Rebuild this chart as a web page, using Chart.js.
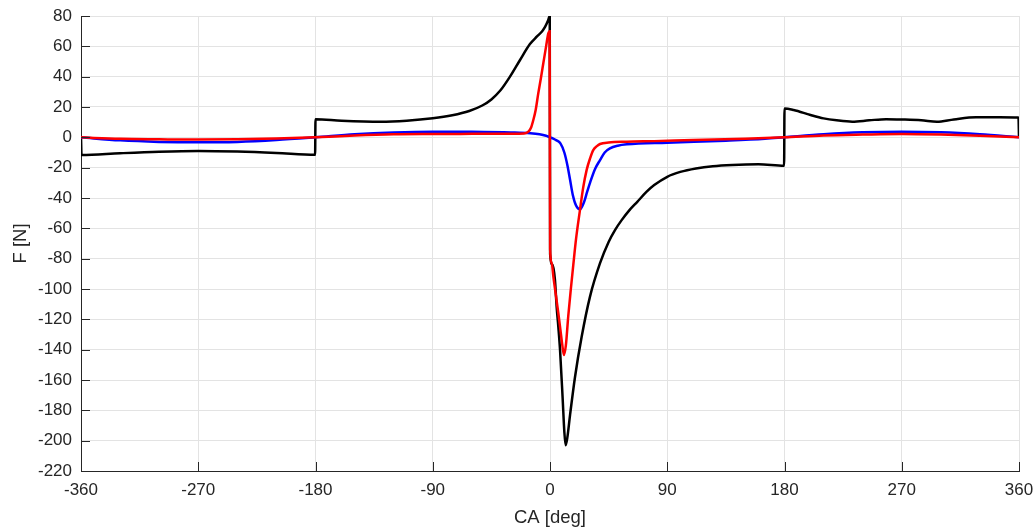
<!DOCTYPE html>
<html>
<head>
<meta charset="utf-8">
<script src="https://cdn.jsdelivr.net/npm/chart.js@4/dist/chart.umd.min.js"></script>
<style>
  html, body { margin: 0; padding: 0; background: #fff; }
  #wrap { width: 1035px; height: 529px; }
</style>
</head>
<body>
<div id="wrap"><canvas id="chart"></canvas></div>
<script>
// ─── Datos ───────────────────────────────────────────────────────────────────

const xTicks = [-360, -270, -180, -90, 0, 90, 180, 270, 360];

// Curva negra
const blackAngle = [-360, -359.6, -330, -300, -270, -240, -210, -180.3, -180, -160,
  -130, -110, -90, -75, -62, -52, -45, -38, -30.7, -23,
  -15.4, -10, -6, -3.8, -1.5, -0.2, 0.1, 2, 3.8, 5.1,
  6.4, 7.7, 9.7, 11, 12, 13.3, 15.4, 19.2, 24.3, 30.7,
  38.4, 45, 50, 55, 61, 67, 74, 80, 90, 100,
  112, 125, 140, 160, 179.7, 180, 187, 200, 210, 220,
  232, 245, 258, 270, 285, 297, 310, 327, 345, 359.6,
  360];
const blackForce = [0, -11.7, -10.5, -9.5, -9, -9.4, -10.3, -11.5, 12, 11,
  10.3, 11, 12.6, 14.6, 17.4, 21, 25, 31, 40, 51,
  61.5, 66.5, 70, 72.8, 77, 80, -77, -84, -94, -111.7,
  -125, -140, -172, -194, -203, -198, -183, -158, -131.5, -105,
  -83, -69, -61, -54.6, -48, -42.5, -36, -31.5, -26, -22.8,
  -20.5, -19, -18.2, -17.8, -18.7, 19, 18, 14.7, 12.5, 11.2,
  10.3, 11.2, 12, 11.8, 11.3, 10.3, 11.8, 13.2, 13.2, 13,
  0];

// Curva azul
const blueAngle = [-360, -330, -300, -270, -240, -210, -180, -150, -120, -90,
  -60, -30, -15, -8, -3, 0, 2.5, 5, 8, 11,
  13.5, 15.4, 17.5, 20, 23, 26, 28.5, 30.7, 34.5, 38.4,
  42, 46, 52, 59, 90, 135, 165, 180, 210, 240,
  270, 300, 330, 360];
const blueForce = [0, -2, -3, -3.3, -3, -1.8, 0, 2, 3.2, 3.7,
  3.6, 3.2, 2.7, 2, 1, 0, -0.8, -2, -4, -10,
  -19, -28, -38, -45, -47.5, -43, -36, -30, -21, -15,
  -10, -7.3, -5.5, -4.6, -3.5, -2.2, -1, 0, 2, 3.3,
  3.7, 3.3, 2, 0];

// Curva roja
const redAngle = [-360, -330, -300, -270, -240, -210, -180, -150, -120, -90,
  -60, -30, -20, -16.6, -14.5, -12.8, -11, -9, -7, -5.1,
  -3, -1.3, -0.3, 0.1, 1.3, 2.6, 4.5, 6.4, 8, 9.3,
  10.7, 12.2, 14, 16, 17.9, 20, 23, 25.5, 28.1, 30.7,
  33.2, 36, 38.4, 45, 59, 80, 110, 150, 180, 210,
  240, 270, 300, 330, 360];
const redForce = [0, -1, -1.3, -1.5, -1.3, -0.8, 0, 1.2, 2, 2.2,
  2.3, 2.4, 2.6, 3.7, 6.5, 11.4, 18, 29, 39, 49,
  60, 68.5, 70, -74, -83, -92, -104, -116, -127, -136,
  -143.5, -137, -118, -100, -84, -67, -48, -33, -21.6, -14,
  -8.4, -5.8, -4.4, -3.4, -2.9, -2.5, -1.8, -1, 0, 1.2,
  1.8, 2.2, 1.8, 1, 0];

// ─── Helpers ────────────────────────────────────────────────────────────────

const toPoints = (xs, ys) => xs.map((x, i) => ({ x, y: ys[i] }));

const FONT = "'Liberation Sans', Arial, Helvetica, sans-serif";
const AXIS_COLOR = '#262626';

function makeDataset(label, xs, ys, color, order) {
  return {
    label,
    data: toPoints(xs, ys),
    borderColor: color,
    borderWidth: 2.5,
    pointRadius: 0,
    cubicInterpolationMode: 'monotone',
    order,
  };
}

// Marcas de los ejes hacia dentro, como en MATLAB
const innerTicks = {
  id: 'innerTicks',
  afterDraw(chart) {
    const { ctx, chartArea, scales } = chart;
    const len = 9;
    ctx.save();
    ctx.strokeStyle = AXIS_COLOR;
    ctx.lineWidth = 1;
    ctx.beginPath();
    for (const t of scales.x.ticks) {
      const px = Math.round(scales.x.getPixelForValue(t.value)) + 0.5;
      ctx.moveTo(px, chartArea.bottom);
      ctx.lineTo(px, chartArea.bottom - len);
    }
    for (const t of scales.y.ticks) {
      const py = Math.round(scales.y.getPixelForValue(t.value)) + 0.5;
      ctx.moveTo(chartArea.left, py);
      ctx.lineTo(chartArea.left + len, py);
    }
    ctx.stroke();
    ctx.restore();
  },
};

// ─── Gráfico ────────────────────────────────────────────────────────────────

new Chart(document.getElementById('chart'), {
  type: 'line',
  data: {
    datasets: [
      makeDataset('negro', blackAngle, blackForce, '#000000', 2),
      makeDataset('azul', blueAngle, blueForce, '#0000ff', 1),
      makeDataset('rojo', redAngle, redForce, '#ff0000', 0),
    ],
  },
  options: {
    responsive: true,
    maintainAspectRatio: false,
    animation: false,
    layout: { padding: { top: 16, right: 16, left: 0, bottom: 0 } },
    plugins: { legend: { display: false }, tooltip: { enabled: false } },
    scales: {
      x: {
        type: 'linear',
        min: -360,
        max: 360,
        afterBuildTicks: s => { s.ticks = xTicks.map(v => ({ value: v })); },
        // tamaño fijo del eje, sin el relleno extra por las etiquetas
        afterFit: s => { s.height = 58; s.paddingLeft = 0; s.paddingRight = 0; },
        grid: { color: '#e3e3e3', drawTicks: false },
        border: { display: true, color: AXIS_COLOR, width: 1 },
        ticks: { padding: 9, color: AXIS_COLOR, maxRotation: 0, font: { family: FONT, size: 17 } },
        title: { display: true, text: 'CA [deg]', color: AXIS_COLOR, padding: { top: 0, bottom: 0 },
                 font: { family: FONT, size: 18.5 } },
      },
      y: {
        min: -220,
        max: 80,
        afterFit: s => { s.width = 81; s.paddingTop = 0; s.paddingBottom = 0; },
        grid: { color: '#e3e3e3', drawTicks: false },
        border: { display: true, color: AXIS_COLOR, width: 1 },
        ticks: { stepSize: 20, padding: 9, color: AXIS_COLOR, font: { family: FONT, size: 17 } },
        title: { display: true, text: 'F [N]', color: AXIS_COLOR, padding: { top: 10, bottom: 0 },
                 font: { family: FONT, size: 18.5 } },
      },
    },
  },
  plugins: [innerTicks],
});
</script>
</body>
</html>
